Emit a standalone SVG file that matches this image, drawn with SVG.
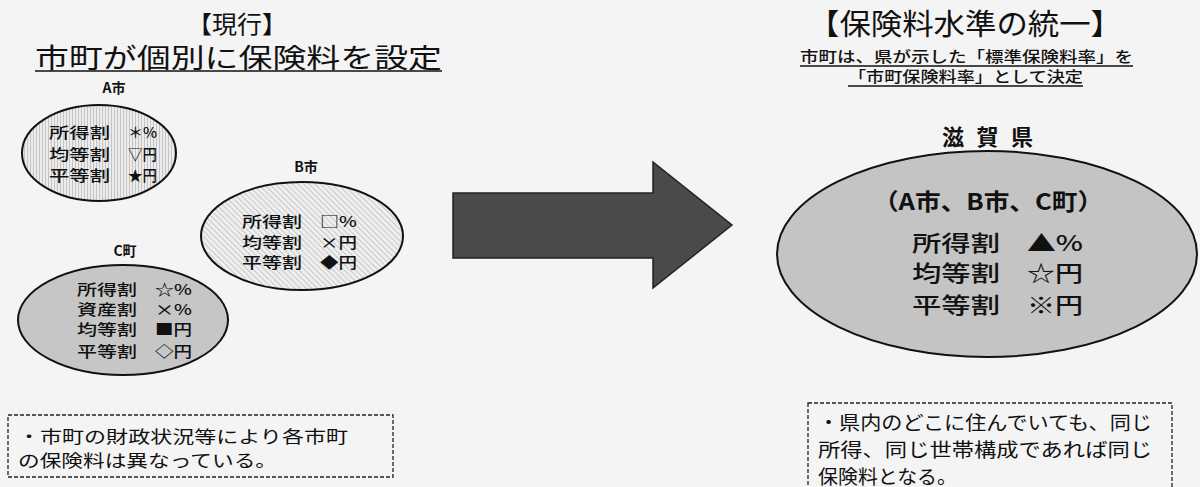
<svg xmlns="http://www.w3.org/2000/svg" width="1200" height="487" viewBox="0 0 1200 487">
<defs>
<style>
text{font-family:"Noto Sans CJK JP","Noto Sans",sans-serif;fill:#111;font-weight:400}
.t{font-size:15px;font-weight:500}
.m{font-weight:500}
.b{font-weight:700}
.bx{fill:none;stroke:#222;stroke-width:1.3;stroke-dasharray:4 2}
.el{stroke:#111;stroke-width:2}
.ul{stroke:#111;stroke-width:1.5}
</style>
<pattern id="pv" width="3" height="4" patternUnits="userSpaceOnUse">
<rect width="3" height="4" fill="#ececec"/>
<rect width="1" height="4" fill="#c4c4c4"/>
</pattern>
<pattern id="pd" width="4" height="4" patternUnits="userSpaceOnUse" patternTransform="rotate(-45)">
<rect width="4" height="4" fill="#efefef"/>
<rect width="1" height="4" fill="#c8c8c8"/>
</pattern>
</defs>
<rect width="1200" height="487" fill="#f4f4f4"/>

<g id="left-title">
<text x="237" y="33" font-size="24" text-anchor="middle" textLength="100" lengthAdjust="spacingAndGlyphs">【現行】</text>
<text x="35" y="68" font-size="27" textLength="407" lengthAdjust="spacingAndGlyphs">市町が個別に保険料を設定</text>
<line class="ul" x1="35" y1="71" x2="442" y2="71"/>
</g>

<g id="city-a">
<text class="b" x="114" y="93" font-size="14" text-anchor="middle">A市</text>
<ellipse class="el" cx="99" cy="153" rx="77" ry="48" fill="url(#pv)"/>
<text class="t" x="49" y="138" textLength="61" lengthAdjust="spacingAndGlyphs">所得割</text>
<text class="t" x="128" y="138" textLength="29" lengthAdjust="spacingAndGlyphs">＊%</text>
<text class="t" x="49" y="160" textLength="61" lengthAdjust="spacingAndGlyphs">均等割</text>
<text class="t" x="128" y="160" textLength="29" lengthAdjust="spacingAndGlyphs">▽円</text>
<text class="t" x="49" y="181" textLength="61" lengthAdjust="spacingAndGlyphs">平等割</text>
<text class="t" x="128" y="181" textLength="29" lengthAdjust="spacingAndGlyphs">★円</text>
</g>

<g id="city-b">
<text class="b" x="306" y="172" font-size="14" text-anchor="middle">B市</text>
<ellipse class="el" cx="302" cy="236" rx="101" ry="54" fill="url(#pd)"/>
<text class="t" x="242" y="227" textLength="60" lengthAdjust="spacingAndGlyphs">所得割</text>
<text class="t" x="320" y="227" textLength="37" lengthAdjust="spacingAndGlyphs">□%</text>
<text class="t" x="242" y="248" textLength="60" lengthAdjust="spacingAndGlyphs">均等割</text>
<text class="t" x="320" y="248" textLength="37" lengthAdjust="spacingAndGlyphs">×円</text>
<text class="t" x="242" y="268" textLength="60" lengthAdjust="spacingAndGlyphs">平等割</text>
<text class="t" x="320" y="268" textLength="37" lengthAdjust="spacingAndGlyphs">◆円</text>
</g>

<g id="town-c">
<text class="b" x="125" y="256" font-size="14" text-anchor="middle">C町</text>
<ellipse class="el" cx="123" cy="320" rx="105" ry="55" fill="#c6c6c6"/>
<text class="t" x="77" y="295" textLength="60" lengthAdjust="spacingAndGlyphs">所得割</text>
<text class="t" x="155" y="295" textLength="37" lengthAdjust="spacingAndGlyphs">☆%</text>
<text class="t" x="77" y="315" textLength="60" lengthAdjust="spacingAndGlyphs">資産割</text>
<text class="t" x="155" y="315" textLength="37" lengthAdjust="spacingAndGlyphs">×%</text>
<text class="t" x="77" y="335" textLength="60" lengthAdjust="spacingAndGlyphs">均等割</text>
<text class="t" x="155" y="335" textLength="37" lengthAdjust="spacingAndGlyphs">■円</text>
<text class="t" x="77" y="357" textLength="60" lengthAdjust="spacingAndGlyphs">平等割</text>
<text class="t" x="155" y="357" textLength="37" lengthAdjust="spacingAndGlyphs">◇円</text>
</g>

<g id="note-left">
<rect class="bx" x="8" y="415" width="385" height="62"/>
<text x="18" y="443" font-size="17" textLength="330" lengthAdjust="spacingAndGlyphs">・市町の財政状況等により各市町</text>
<text x="18" y="467" font-size="17" textLength="259" lengthAdjust="spacingAndGlyphs">の保険料は異なっている。</text>
</g>

<g id="connectors">
<path d="M453 193 H653 V162 L732 225 L653 288 V258 H453 Z" fill="#4a4a4a" stroke="#222" stroke-width="1.5"/>
</g>

<g id="right-title">
<text x="808" y="35" font-size="29" textLength="314" lengthAdjust="spacingAndGlyphs">【保険料水準の統一】</text>
<text class="m" x="800" y="62" font-size="15" textLength="333" lengthAdjust="spacingAndGlyphs">市町は、県が示した「標準保険料率」を</text>
<line class="ul" x1="800" y1="66" x2="1133" y2="66"/>
<text class="m" x="848" y="82" font-size="15" textLength="235" lengthAdjust="spacingAndGlyphs">「市町保険料率」として決定</text>
<line class="ul" x1="848" y1="86" x2="1083" y2="86"/>
</g>

<g id="shiga">
<text class="b" x="942" y="145" font-size="22" textLength="91" lengthAdjust="spacing">滋賀県</text>
<ellipse class="el" cx="987" cy="254" rx="210" ry="103" fill="#c4c4c4"/>
<text class="b" x="873" y="210" font-size="23" textLength="230" lengthAdjust="spacingAndGlyphs">（A市、B市、C町）</text>
<text class="m" x="912" y="251" font-size="22" textLength="88" lengthAdjust="spacingAndGlyphs">所得割</text>
<text class="m" x="1027" y="251" font-size="22" textLength="56" lengthAdjust="spacingAndGlyphs">▲%</text>
<text class="m" x="912" y="281" font-size="22" textLength="88" lengthAdjust="spacingAndGlyphs">均等割</text>
<text class="m" x="1027" y="281" font-size="22" textLength="56" lengthAdjust="spacingAndGlyphs">☆円</text>
<text class="m" x="912" y="313" font-size="22" textLength="88" lengthAdjust="spacingAndGlyphs">平等割</text>
<text class="m" x="1027" y="313" font-size="22" textLength="56" lengthAdjust="spacingAndGlyphs">※円</text>
</g>

<g id="note-right">
<rect class="bx" x="808" y="403" width="364" height="100"/>
<text x="818" y="430" font-size="19" textLength="334" lengthAdjust="spacingAndGlyphs">・県内のどこに住んでいても、同じ</text>
<text x="818" y="457" font-size="19" textLength="334" lengthAdjust="spacingAndGlyphs">所得、同じ世帯構成であれば同じ</text>
<text x="818" y="484" font-size="19" textLength="139" lengthAdjust="spacingAndGlyphs">保険料となる。</text>
</g>
</svg>
